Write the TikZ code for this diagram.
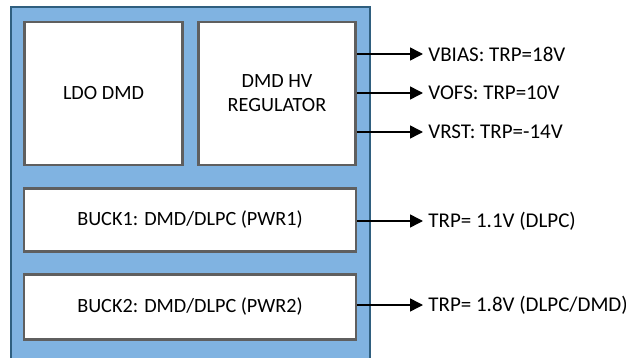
\documentclass[tikz,border=0pt]{standalone}
\usepackage{fontspec}
\setmainfont{Carlito}
\usetikzlibrary{arrows.meta}
\definecolor{panelblue}{HTML}{80B3E1}
\definecolor{paneledge}{HTML}{2F5F7F}
\definecolor{boxedge}{HTML}{5F5F5F}
\begin{document}
\begin{tikzpicture}[x=0.5pt, y=-0.5pt,
    every node/.style={font=\fontsize{10.1}{12}\selectfont},
    block/.style={draw=boxedge, fill=white, line width=1.3pt, align=center, inner sep=0pt},
    rail/.style={-{Triangle[length=6.5pt,width=6.5pt]}, line width=0.75pt},
    rlabel/.style={anchor=west, inner sep=2.5pt, font=\fontsize{10.5}{12}\selectfont}]
  \useasboundingbox (0,0) rectangle (626,358);
  \filldraw[fill=panelblue, draw=paneledge, line width=1pt] (11,7) rectangle (370,364);
  \node[block, minimum width=79pt, minimum height=71.5pt] (ldo) at (103.5,93.5) {LDO DMD};
  \node[block, minimum width=78.5pt, minimum height=71.5pt] (hv) at (277,93.5) {DMD HV\\REGULATOR};
  \node[block, minimum width=166pt, minimum height=31.7pt] (buck1) at (190,220) {BUCK1: DMD/DLPC (PWR1)};
  \node[block, minimum width=166pt, minimum height=32.7pt] (buck2) at (190,307) {BUCK2: DMD/DLPC (PWR2)};
  \foreach \n/\y/\t in {vbias/54/{VBIAS: TRP=18V}, vofs/93/{VOFS: TRP=10V}, vrst/132/{VRST: TRP=-14V}}{
      \node[rlabel] (\n) at (423,\y) {\t};
      \draw[rail] (\n.west -| hv.east) -- (\n.west);
  }
  \foreach \n/\b/\y/\t in {trp1/buck1/221/{TRP= 1.1V (DLPC)}, trp2/buck2/305/{TRP= 1.8V (DLPC/DMD)}}{
      \node[rlabel] (\n) at (423,\y) {\t};
      \draw[rail] (\n.west -| \b.east) -- (\n.west);
  }
\end{tikzpicture}
\end{document}
